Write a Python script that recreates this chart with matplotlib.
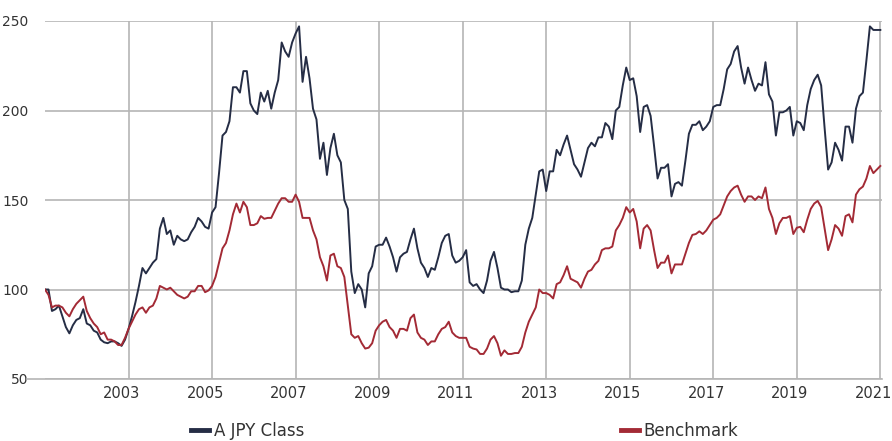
import numpy as np
import matplotlib.pyplot as plt
from matplotlib import transforms

# monthly index values, Jan 2001 .. Jan 2021 (one row per year)
a_jpy = [
    100, 100, 88, 89, 91, 85, 79, 75.5, 80, 83, 84, 89,          # 2001
    81, 80, 77, 76, 72, 70.5, 70, 71, 71, 70, 68.5, 72,          # 2002
    78, 85, 93, 102, 112, 109, 112, 115, 117, 134, 140, 131,     # 2003
    133, 125, 130, 128, 127, 128, 132, 135, 140, 138, 135, 134,  # 2004
    143, 146, 165, 186, 188, 194, 213, 213, 210, 222, 222, 204,  # 2005
    200, 198, 210, 205, 211, 201, 210, 217, 238, 233, 230, 238,  # 2006
    243, 247, 216, 230, 218, 201, 195, 173, 182, 164, 179, 187,  # 2007
    175, 171, 150, 145, 110, 98, 103, 100, 90, 109, 113, 124,    # 2008
    125, 125, 129, 124, 118, 110, 118, 120, 121, 128, 134, 123,  # 2009
    115, 112, 107, 112, 111, 118, 126, 130, 131, 119, 115, 116,  # 2010
    118, 122, 104, 102, 103, 100, 98, 105, 116, 121, 112, 101,   # 2011
    100, 100, 98.5, 99, 99, 105, 125, 134, 140, 153, 166, 167,   # 2012
    155, 166, 166, 178, 175, 181, 186, 178, 170, 167, 163, 171,  # 2013
    179, 182, 180, 185, 185, 193, 191, 184, 200, 202, 214, 224,  # 2014
    217, 218, 208, 188, 202, 203, 197, 180, 162, 168, 168, 170,  # 2015
    152, 159, 160, 158, 172, 187, 192, 192, 194, 189, 191, 194,  # 2016
    202, 203, 203, 212, 223, 226, 233, 236, 224, 215, 224, 217,  # 2017
    211, 215, 214, 227, 209, 205, 186, 199, 199, 200, 202, 186,  # 2018
    194, 193, 189, 203, 212, 217, 220, 214, 190, 167, 171, 182,  # 2019
    178, 172, 191, 191, 182, 201, 208, 210, 228, 247, 245, 245,  # 2020
    245,                                                         # 2021
]

benchmark = [
    100, 97, 90, 91, 91, 90, 87, 85, 89, 92, 94, 96,             # 2001
    88, 84, 81, 79, 75, 76, 72, 72, 71, 69, 69, 73,              # 2002
    78, 82, 86, 89, 90, 87, 90, 91, 95, 102, 101, 100,           # 2003
    101, 99, 97, 96, 95, 96, 99, 99, 102, 102, 98.5, 99.5,       # 2004
    102, 107, 115, 123, 126, 133, 142, 148, 143, 149, 146, 136,  # 2005
    136, 137, 141, 139.5, 140, 140, 144, 148, 151, 151, 149, 149,  # 2006
    153, 149, 140, 140, 140, 133, 128, 118, 113, 105, 119, 120,  # 2007
    113, 112, 107, 91, 75, 73, 74, 70, 67, 67.5, 70, 77,         # 2008
    80, 82, 83, 79, 77, 73, 78, 78, 77, 84, 86, 76,              # 2009
    73, 72, 69, 71, 71, 75, 78, 79, 82, 76, 74, 73,              # 2010
    73, 73, 68, 67, 66.5, 64, 64, 67, 72, 74, 70, 63,            # 2011
    66, 64, 64, 64.5, 64.5, 68, 76, 82, 86, 90, 100, 98,         # 2012
    98, 97, 95, 103, 104, 108, 113, 106, 105, 104, 101, 106,     # 2013
    110, 111, 114, 116, 122, 123, 123, 124, 133, 136, 140, 146,  # 2014
    143, 145, 138, 123, 134, 136, 133, 122, 112, 115, 115, 119,  # 2015
    109, 114, 114, 114, 120, 126, 130.5, 131, 132.5, 131, 133, 136,  # 2016
    139, 140, 142, 147, 152, 155, 157, 158, 153, 149, 152, 152,  # 2017
    150, 152, 151, 157, 145, 140, 131, 137, 140, 140, 141, 131,  # 2018
    134.5, 135, 132, 139, 145, 148, 149.5, 146, 134, 122, 128, 136,  # 2019
    134, 130, 141, 142, 137.5, 153, 156, 157.5, 162, 169, 165, 167,  # 2020
    169,                                                         # 2021
]

x_ticks = [2003, 2005, 2007, 2009, 2011, 2013, 2015, 2017, 2019, 2021]
y_ticks = [50, 100, 150, 200, 250]
series_names = ['A JPY Class', 'Benchmark']

NAVY = '#252d45'
RED = '#a32a35'
GRID = '#b5b5b5'
TEXT = '#333333'

plt.rcParams['font.family'] = ['Liberation Sans Narrow', 'DejaVu Sans']

dates = 2001 + np.arange(len(a_jpy)) / 12.0

fig = plt.figure(figsize=(8.92, 4.41), dpi=100)
ax = fig.add_axes([45 / 892, 62 / 441, 837 / 892, 358 / 441])

ax.plot(dates, a_jpy, color=NAVY, lw=1.4, label=series_names[0], zorder=3)
ax.plot(dates, benchmark, color=RED, lw=1.4, label=series_names[1], zorder=3)

ax.set_xlim(2001.0, dates[-1] + 0.04)
ax.set_ylim(50, 250)
ax.set_xticks(x_ticks)
ax.set_yticks(y_ticks)
ax.grid(True, color=GRID, lw=1.2)
ax.set_axisbelow(True)
for s in ax.spines.values():
    s.set_visible(False)

# the baseline reaches out under the y labels
ax.axhline(50, xmin=-0.022, xmax=1, color=GRID, lw=1.2, clip_on=False, zorder=1)

ax.tick_params(axis='both', length=0, labelsize=10.5, colors=TEXT)
ax.tick_params(axis='y', pad=12, labelsize=10)
ax.tick_params(axis='x', pad=5)
for lab in ax.get_yticklabels():
    lab.set_horizontalalignment('right')
shift = transforms.ScaledTranslation(-7 / 100, 0, fig.dpi_scale_trans)
for lab in ax.get_xticklabels():
    lab.set_transform(lab.get_transform() + shift)

leg = fig.legend(loc='center left', bbox_to_anchor=(176 / 892, 10 / 441), ncol=2, frameon=False,
                 fontsize=12, handlelength=1.1, handletextpad=0.25, columnspacing=19.0)
for h in leg.get_lines():
    h.set_linewidth(3.5)
for t in leg.get_texts():
    t.set_color(TEXT)

fig.savefig('out.png', dpi=100)
